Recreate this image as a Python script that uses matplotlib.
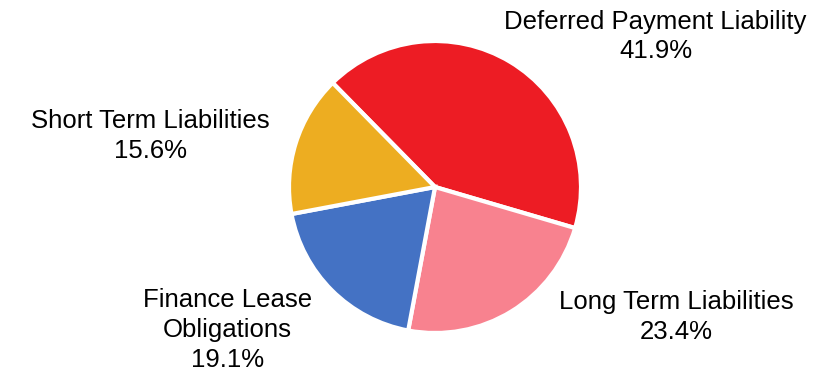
import matplotlib.pyplot as plt

labels = ["Deferred Payment Liability", "Long Term Liabilities",
          "Finance Lease\nObligations", "Short Term Liabilities"]
shares = [41.9, 23.4, 19.1, 15.6]
colors = ["#ED1C24", "#F8828F", "#4472C4", "#EDAD21"]

# label positions in pie-radius units (center of each text block)
label_pos = [(1.51, 1.03), (1.65, -0.89), (-1.42, -0.98), (-1.95, 0.35)]

plt.rcParams['font.family'] = ['Liberation Sans', 'DejaVu Sans']

fig = plt.figure(figsize=(8.2, 3.74), dpi=100)
ax = fig.add_axes([0, 0, 1, 1])

ax.pie(shares, colors=colors, startangle=134.5, counterclock=False,
       radius=1.0, center=(0, 0),
       wedgeprops=dict(edgecolor='white', linewidth=3))

# pie() resets the limits, so set them afterwards
r_px = 146
cx, cy = 435, 187
ax.set_xlim(-cx / r_px, (820 - cx) / r_px)
ax.set_ylim(-(374 - cy) / r_px, cy / r_px)
ax.set_aspect('equal')
ax.axis('off')

for lab, val, (x, y) in zip(labels, shares, label_pos):
    ax.text(x, y, f"{lab}\n{val:.1f}%", ha='center', va='center',
            fontsize=18.5, linespacing=1.3)

fig.savefig("out.png", dpi=100)
